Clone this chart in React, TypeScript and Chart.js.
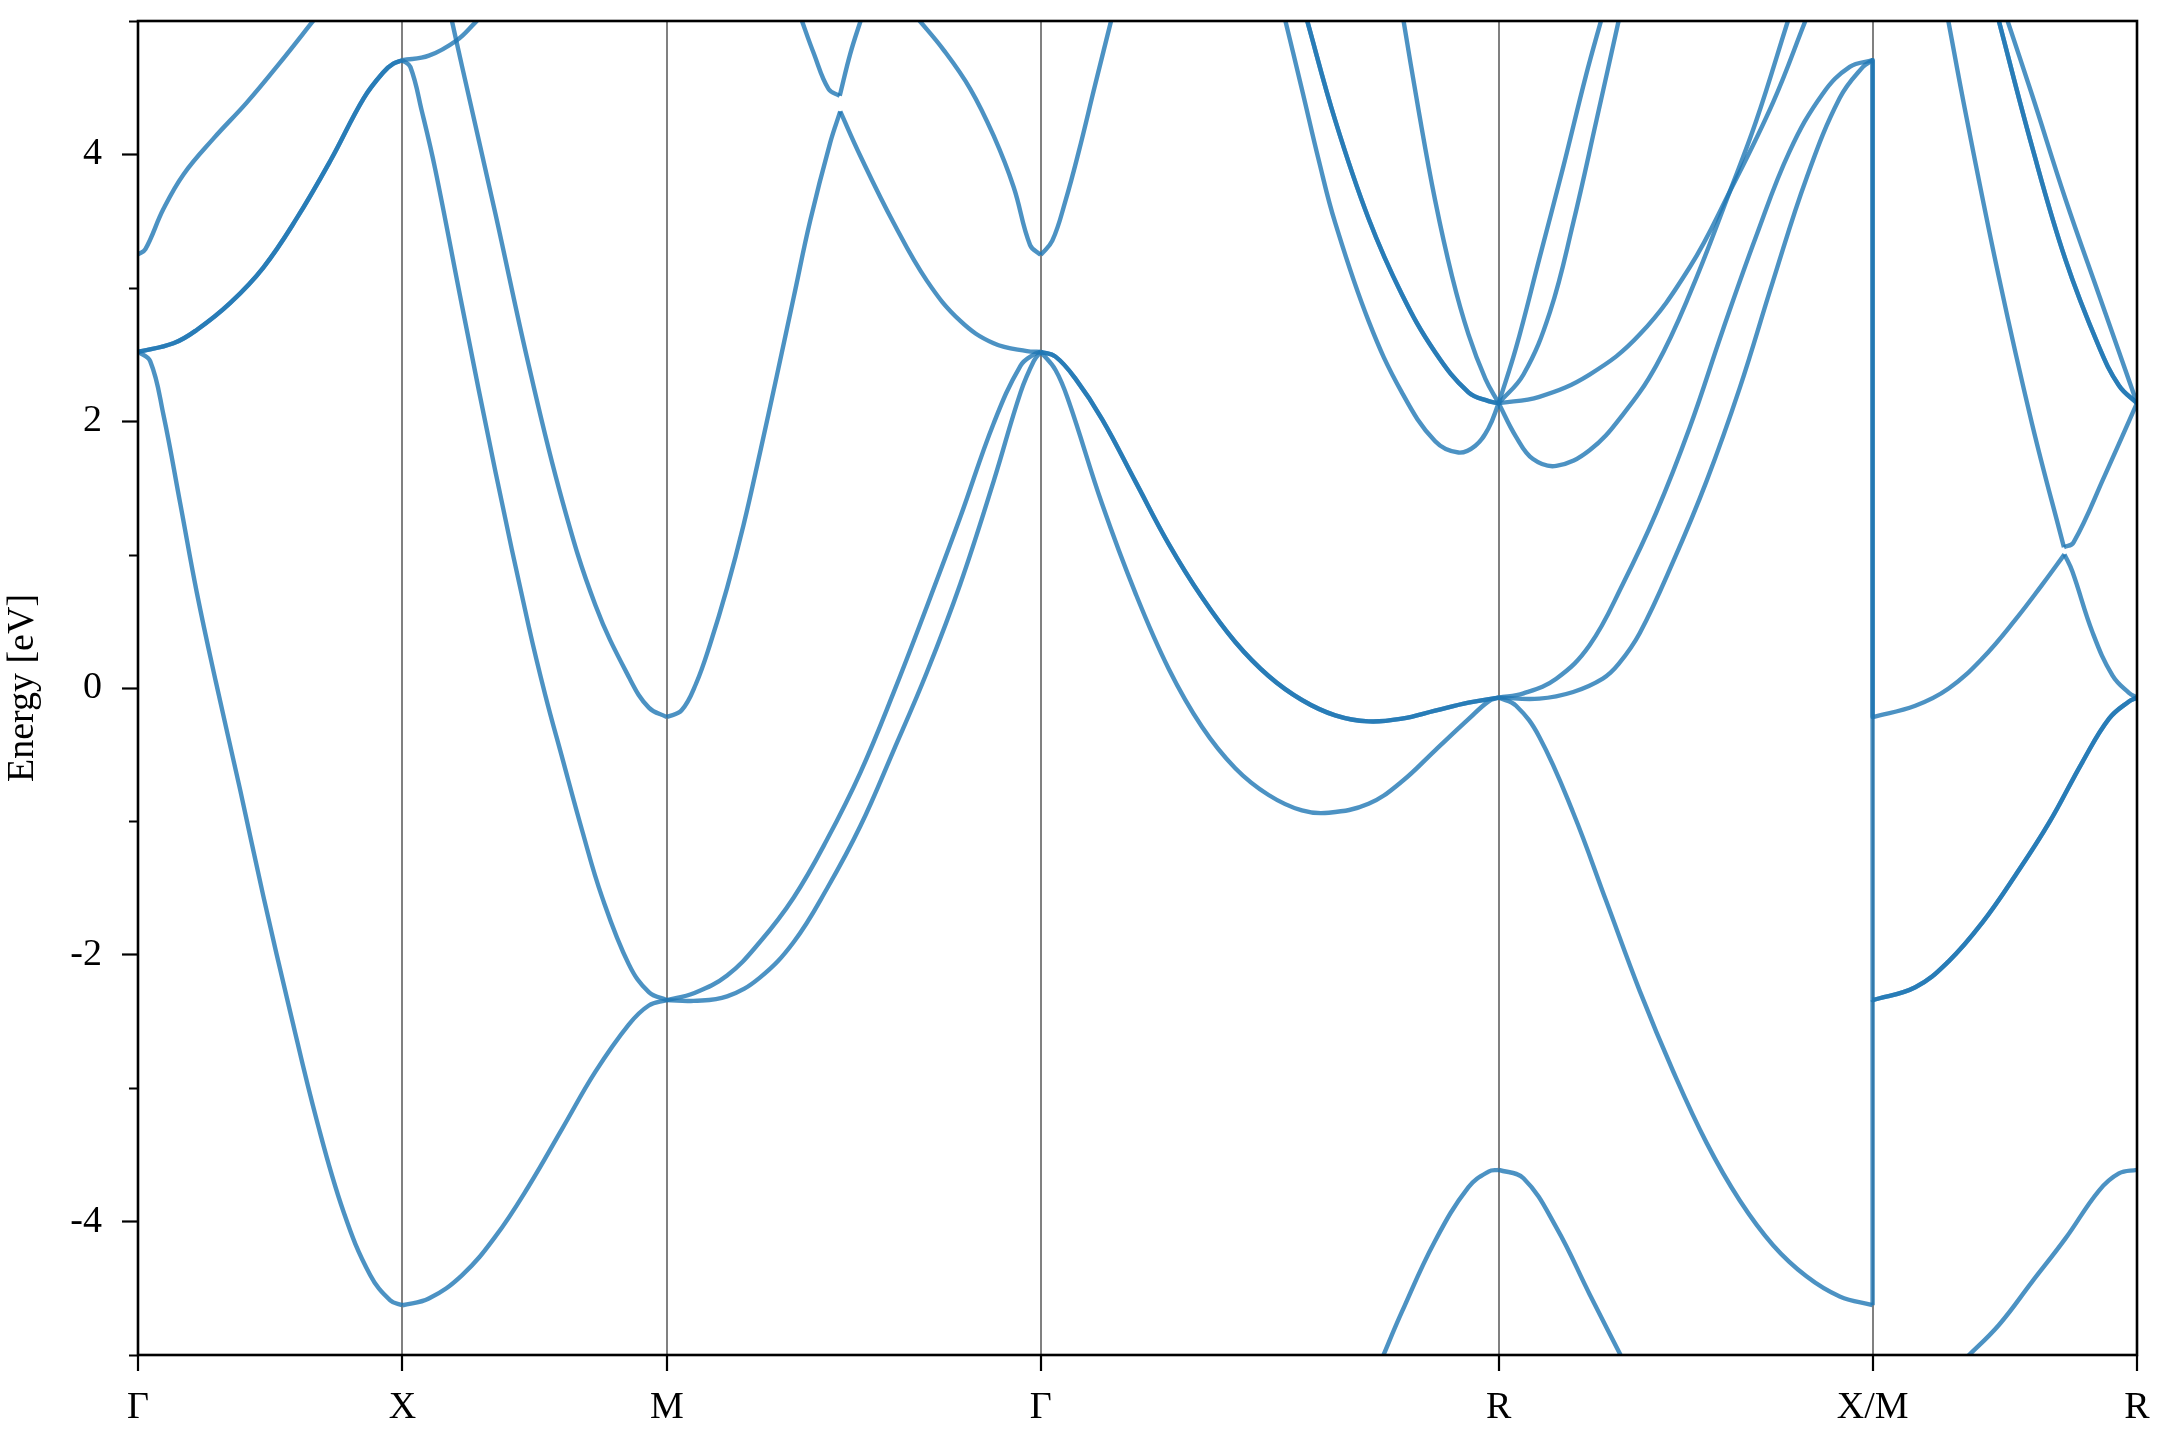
import React, { useEffect, useRef } from 'react';
import { Chart, registerables } from 'chart.js';

Chart.register(...registerables);

type P = [number, number];

// High-symmetry path positions and labels
const kTicks = [0, 0.5, 1.0, 1.7071, 2.5731, 3.2802, 3.7802];
const kLabels = ['Γ', 'X', 'M', 'Γ', 'R', 'X/M', 'R'];
const yMajorTicks = [-4, -2, 0, 2, 4];
const yMinorTicks = [-5, -3, -1, 1, 3, 5];

// Γ – X
const gxA: P[] = [[0, 3.25], [0.014, 3.29], [0.048, 3.59], [0.086, 3.85], [0.143, 4.12], [0.206, 4.39], [0.269, 4.69], [0.335, 5.02]];
const gxB: P[] = [[0, 2.52], [0.067, 2.584], [0.111, 2.684], [0.174, 2.885], [0.237, 3.152], [0.3, 3.52], [0.364, 3.954], [0.427, 4.422], [0.465, 4.62], [0.483, 4.68], [0.5, 4.706]];
const gxC: P[] = [[0, 2.52], [0.023, 2.45], [0.048, 2.05], [0.08, 1.38], [0.111, 0.72], [0.147, 0.05], [0.193, -0.76], [0.237, -1.56], [0.288, -2.43], [0.338, -3.24], [0.389, -3.93], [0.439, -4.4], [0.477, -4.59], [0.5, -4.627]];

// X – M
const xmE: P[] = [[0.5, 4.706], [0.55, 4.74], [0.603, 4.856], [0.638, 4.99], [0.665, 5.1]];
const xmD: P[] = [[0.5, 4.706], [0.515, 4.656], [0.537, 4.32], [0.562, 3.89], [0.613, 2.86], [0.676, 1.62], [0.739, 0.46], [0.77, -0.05], [0.802, -0.52], [0.84, -1.07], [0.877, -1.56], [0.928, -2.07], [0.966, -2.28], [1.0, -2.34]];
const xmF: P[] = [[0.592, 5.03], [0.613, 4.656], [0.676, 3.553], [0.739, 2.417], [0.802, 1.409], [0.865, 0.621], [0.93, 0.069], [0.966, -0.147], [1.0, -0.218]];
const xmG: P[] = [[0.5, -4.627], [0.55, -4.577], [0.613, -4.401], [0.676, -4.111], [0.739, -3.733], [0.802, -3.305], [0.865, -2.876], [0.928, -2.523], [0.966, -2.38], [1.0, -2.34]];

// M – Γ
const mgJ: P[] = [[1.0, -0.218], [1.028, -0.167], [1.055, 0.03], [1.082, 0.33], [1.114, 0.75], [1.145, 1.22], [1.176, 1.76], [1.208, 2.34], [1.24, 2.93], [1.271, 3.5], [1.309, 4.088], [1.328, 4.322]];
const mgK: P[] = [[1.328, 4.322], [1.366, 3.988], [1.429, 3.486], [1.492, 3.052], [1.555, 2.752], [1.618, 2.584], [1.681, 2.525], [1.7071, 2.52]];
const mgL: P[] = [[1.252, 5.04], [1.278, 4.756], [1.306, 4.489], [1.327, 4.439]];
const mgM: P[] = [[1.327, 4.439], [1.347, 4.756], [1.368, 5.02]];
const mgN: P[] = [[1.472, 5.03], [1.524, 4.78], [1.574, 4.49], [1.618, 4.14], [1.656, 3.754], [1.687, 3.32], [1.7071, 3.246]];
const mgH: P[] = [[1.0, -2.34], [1.051, -2.288], [1.114, -2.155], [1.176, -1.904], [1.24, -1.57], [1.303, -1.136], [1.366, -0.634], [1.429, -0.033], [1.492, 0.613], [1.555, 1.281], [1.618, 1.983], [1.669, 2.417], [1.694, 2.5], [1.7071, 2.52]];
const mgI: P[] = [[1.0, -2.34], [1.051, -2.345], [1.114, -2.312], [1.176, -2.171], [1.24, -1.904], [1.303, -1.503], [1.366, -1.035], [1.429, -0.467], [1.492, 0.12], [1.555, 0.78], [1.618, 1.549], [1.669, 2.216], [1.694, 2.451], [1.7071, 2.52]];

// Γ – R
const grS: P[] = [[1.7071, 3.246], [1.729, 3.353], [1.754, 3.654], [1.779, 4.021], [1.81, 4.522], [1.842, 5.03]];
const grP: P[] = [[1.7071, 2.52], [1.735, 2.484], [1.773, 2.317], [1.823, 2.016], [1.886, 1.549], [1.949, 1.081], [2.012, 0.68], [2.075, 0.345], [2.138, 0.09], [2.201, -0.09], [2.264, -0.205], [2.327, -0.25], [2.39, -0.23], [2.453, -0.17], [2.516, -0.11], [2.5731, -0.072]];
const grQ: P[] = [[1.7071, 2.52], [1.735, 2.384], [1.76, 2.15], [1.823, 1.381], [1.886, 0.713], [1.949, 0.145], [2.012, -0.29], [2.075, -0.601], [2.138, -0.802], [2.201, -0.918], [2.252, -0.935], [2.327, -0.868], [2.39, -0.701], [2.453, -0.467], [2.516, -0.234], [2.554, -0.1], [2.5731, -0.072]];
const grT: P[] = [[2.35, -5.05], [2.39, -4.677], [2.453, -4.143], [2.516, -3.742], [2.554, -3.625], [2.5731, -3.612]];
const grU: P[] = [[2.168, 5.03], [2.201, 4.489], [2.233, 3.954], [2.264, 3.486], [2.327, 2.752], [2.39, 2.216], [2.453, 1.849], [2.497, 1.765], [2.529, 1.816], [2.554, 1.949], [2.5731, 2.135]];
const grV: P[] = [[2.209, 5.03], [2.264, 4.255], [2.327, 3.52], [2.39, 2.952], [2.453, 2.517], [2.516, 2.216], [2.554, 2.15], [2.5731, 2.135]];
const grW: P[] = [[2.392, 5.03], [2.422, 4.322], [2.453, 3.654], [2.485, 3.085], [2.516, 2.651], [2.548, 2.317], [2.5731, 2.135]];

// R – X
const rxW: P[] = [[2.5731, 2.135], [2.606, 2.551], [2.65, 3.219], [2.694, 3.888], [2.738, 4.589], [2.77, 5.05]];
const rxV: P[] = [[2.5731, 2.135], [2.62, 2.35], [2.67, 2.818], [2.714, 3.486], [2.758, 4.255], [2.801, 5.02]];
const rxX1: P[] = [[2.5731, 2.135], [2.65, 2.183], [2.745, 2.35], [2.84, 2.651], [2.934, 3.152], [3.01, 3.72], [3.092, 4.39], [3.153, 5.0]];
const rxY: P[] = [[2.5731, 2.135], [2.606, 1.883], [2.638, 1.716], [2.682, 1.665], [2.745, 1.782], [2.808, 2.05], [2.871, 2.417], [2.934, 2.95], [3.01, 3.72], [3.06, 4.25], [3.12, 5.0]];
const rxZ1: P[] = [[2.5731, -0.072], [2.62, -0.04], [2.682, 0.07], [2.745, 0.32], [2.808, 0.78], [2.871, 1.314], [2.934, 1.949], [2.997, 2.684], [3.06, 3.386], [3.123, 4.021], [3.186, 4.455], [3.237, 4.656], [3.2802, 4.706]];
const rxZ2: P[] = [[2.5731, -0.072], [2.65, -0.08], [2.714, -0.03], [2.77, 0.07], [2.8, 0.18], [2.84, 0.412], [2.903, 0.947], [2.966, 1.549], [3.029, 2.25], [3.092, 3.052], [3.155, 3.82], [3.218, 4.422], [3.262, 4.656], [3.2802, 4.706]];
const rxAA: P[] = [[2.5731, -0.072], [2.606, -0.133], [2.65, -0.367], [2.714, -0.935], [2.777, -1.603], [2.84, -2.272], [2.903, -2.873], [2.966, -3.408], [3.029, -3.842], [3.092, -4.177], [3.155, -4.41], [3.218, -4.561], [3.2802, -4.627]];
const rxBB: P[] = [[2.5731, -3.612], [2.62, -3.675], [2.682, -4.043], [2.745, -4.544], [2.81, -5.05]];

// M – R
const mrCC: P[] = [[3.2802, -0.218], [3.361, -0.133], [3.424, -0.004], [3.488, 0.223], [3.551, 0.516], [3.601, 0.775], [3.643, 1.002]];
const mrCCd: P[] = [[3.643, 1.002], [3.658, 0.873], [3.696, 0.418], [3.734, 0.093], [3.765, -0.036], [3.7802, -0.072]];
const mrFF: P[] = [[3.422, 5.03], [3.456, 4.313], [3.519, 3.08], [3.582, 1.976], [3.642, 1.055]];
const mrGG: P[] = [[3.642, 1.055], [3.66, 1.09], [3.72, 1.6], [3.7802, 2.135]];
const mrHH: P[] = [[3.517, 5.03], [3.582, 4.054], [3.645, 3.21], [3.708, 2.561], [3.746, 2.268], [3.7802, 2.135]];
const mrII: P[] = [[3.533, 5.03], [3.582, 4.443], [3.645, 3.664], [3.708, 2.95], [3.7802, 2.135]];
const mrDD: P[] = [[3.2802, -2.34], [3.361, -2.243], [3.424, -2.049], [3.488, -1.757], [3.551, -1.4], [3.614, -1.01], [3.677, -0.555], [3.727, -0.231], [3.765, -0.101], [3.7802, -0.072]];
const mrEE: P[] = [[3.455, -5.03], [3.519, -4.775], [3.582, -4.45], [3.645, -4.126], [3.708, -3.769], [3.746, -3.639], [3.7802, -3.612]];

// Band pieces (degenerate pairs listed twice: two bands on top of each other)
const pieces: P[][] = [
  gxA, gxB, gxB, gxC,
  xmE, xmD, xmF, xmG,
  mgJ, mgK, mgL, mgM, mgN, mgH, mgI,
  grS, grP, grP, grQ, grT, grU, grV, grV, grW,
  rxW, rxV, rxX1, rxY, rxZ1, rxZ2, rxAA, rxBB,
  mrCC, mrCCd, mrFF, mrGG, mrHH, mrHH, mrII, mrDD, mrDD, mrEE,
];

// Jumps at the X/M discontinuity: sorted bands join their X value to their M value
const last = (a: P[]) => a[a.length - 1];
const connectors: P[][] = [
  [last(rxAA), mrDD[0]],
  [last(rxZ1), mrDD[0]],
  [last(rxZ2), mrCC[0]],
];

const LINE = 'rgba(31,119,180,0.8)';
const FONT = "'Liberation Serif', 'Times New Roman', serif";

const framePlugin = {
  id: 'frame',
  afterDraw(chart: any) {
    const { ctx, chartArea: a, scales } = chart;
    ctx.save();
    ctx.strokeStyle = '#000';
    ctx.lineWidth = 2.2;
    ctx.beginPath();
    for (const v of yMinorTicks) {
      const y = Math.round(scales.y.getPixelForValue(v)) + 0.5;
      ctx.moveTo(a.left, y);
      ctx.lineTo(a.left - 9, y);
    }
    ctx.stroke();
    ctx.lineWidth = 2.6;
    ctx.strokeRect(a.left, a.top, a.right - a.left, a.bottom - a.top);
    ctx.restore();
  },
};

export default function App() {
  const ref = useRef<HTMLCanvasElement | null>(null);

  useEffect(() => {
    if (!ref.current) return;
    const base = {
      borderColor: LINE,
      borderWidth: 4.4,
      pointRadius: 0,
      pointHoverRadius: 0,
      fill: false,
      clip: 0,
      borderJoinStyle: 'round',
    };
    const datasets: any[] = [
      ...pieces.map((p) => ({
        ...base,
        data: p.map(([x, y]) => ({ x, y })),
        tension: 0.4,
      })),
      ...connectors.map((p) => ({
        ...base,
        data: p.map(([x, y]) => ({ x, y })),
        tension: 0,
      })),
    ];

    const chart = new Chart(ref.current, {
      type: 'line',
      data: { datasets },
      options: {
        animation: false,
        responsive: false,
        devicePixelRatio: 1,
        events: [],
        layout: { padding: { top: 21, right: 23, left: 0, bottom: 0 } },
        plugins: { legend: { display: false }, tooltip: { enabled: false } },
        scales: {
          x: {
            type: 'linear',
            min: kTicks[0],
            max: kTicks[kTicks.length - 1],
            afterBuildTicks: (s: any) => {
              s.ticks = kTicks.map((v) => ({ value: v }));
            },
            afterFit: (s: any) => {
              s.height = 85;
              s.paddingLeft = 0;
              s.paddingRight = 0;
            },
            ticks: {
              autoSkip: false,
              maxRotation: 0,
              minRotation: 0,
              padding: 14,
              color: '#000',
              font: { family: FONT, size: 38 },
              callback: (_v: any, i: number) => kLabels[i],
            },
            grid: {
              drawOnChartArea: true,
              drawTicks: true,
              tickLength: 16,
              tickColor: '#000',
              tickWidth: 2.2,
              lineWidth: 2,
              color: (c: any) =>
                c.index === 0 || c.index === kTicks.length - 1 ? 'rgba(0,0,0,0)' : 'rgb(128,128,128)',
            },
            border: { display: false },
          },
          y: {
            type: 'linear',
            min: -5,
            max: 5,
            afterBuildTicks: (s: any) => {
              s.ticks = yMajorTicks.map((v) => ({ value: v }));
            },
            afterFit: (s: any) => {
              s.width = 138;
              s.paddingTop = 0;
              s.paddingBottom = 0;
            },
            ticks: {
              padding: 20,
              color: '#000',
              font: { family: FONT, size: 38 },
              callback: (v: any) => `${v}`,
            },
            grid: {
              drawOnChartArea: false,
              drawTicks: true,
              tickLength: 16,
              tickColor: '#000',
              tickWidth: 2.2,
            },
            border: { display: false },
            title: {
              display: true,
              text: 'Energy [eV]',
              color: '#000',
              font: { family: FONT, size: 38 },
              padding: { top: 0, bottom: 0 },
            },
          },
        },
      },
      plugins: [framePlugin],
    } as any);

    return () => chart.destroy();
  }, []);

  return (
    <div style={{ position: 'absolute', left: 0, top: 0, width: 2160, height: 1440, background: '#fff' }}>
      <canvas ref={ref} width={2160} height={1440} style={{ width: 2160, height: 1440, display: 'block' }} />
    </div>
  );
}
